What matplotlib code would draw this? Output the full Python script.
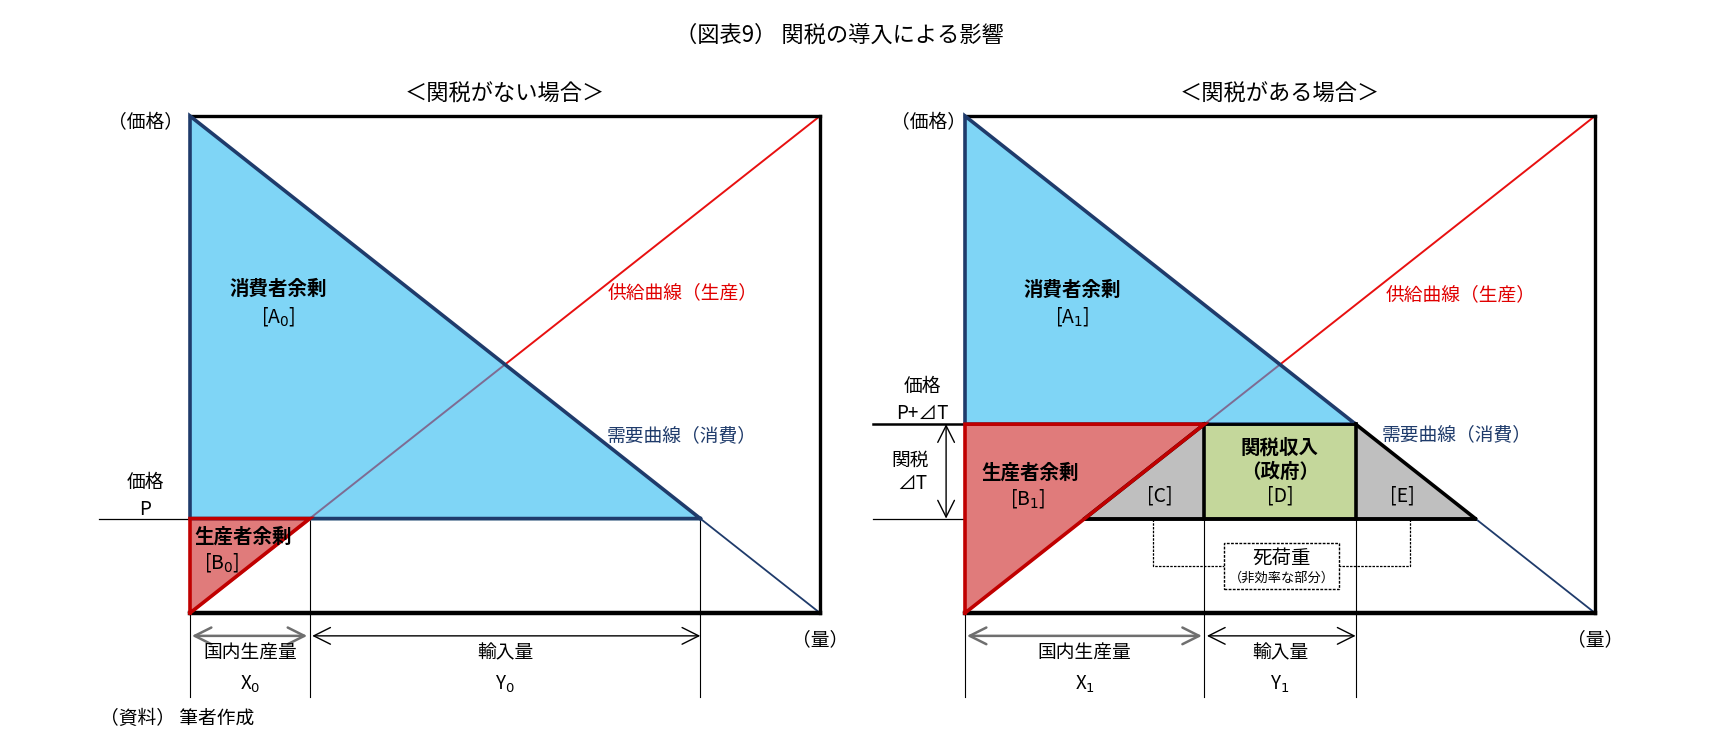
import matplotlib.pyplot as plt
import numpy as np
from matplotlib.patches import Rectangle

plt.rcParams['font.family'] = ['Noto Sans CJK JP', 'DejaVu Sans']

# model: quantity axis 0..1, supply and demand are straight lines
q_axis = [0.0, 1.0]
supply = [0.0, 1.0]     # price along q_axis
demand = [1.0, 0.0]     # price along q_axis
world_price = 0.19
tariff = 0.19

title = '（図表9） 関税の導入による影響'
panel_titles = ['＜関税がない場合＞', '＜関税がある場合＞']

BLUE = '#7FD5F6'
NAVY = '#1F3B6B'
RED_FILL = '#E07B7B'
RED_EDGE = '#C00000'
SUPPLY = '#E81010'
PURPLE = '#7E6C93'
GRAY = '#BFBFBF'
GREEN = '#C4D79B'
FS = 13.5


def q_supply(p):
    return np.interp(p, supply, q_axis)


def q_demand(p):
    return np.interp(p, demand[::-1], q_axis[::-1])


def setup(ax, sub):
    ax.set_xlim(0, 1)
    ax.set_ylim(0, 1)
    ax.set_xticks([])
    ax.set_yticks([])
    ax.spines['left'].set_visible(False)
    for s in ['top', 'right']:
        ax.spines[s].set_linewidth(2.4)
    ax.spines['bottom'].set_linewidth(3.2)
    ax.text(0.5, 1.044, sub, ha='center', va='center', fontsize=16)
    ax.text(1.0, -0.054, '（量）', ha='center', va='center', fontsize=FS)


def arrow(ax, x0, x1, y, color='black', lw=1.0):
    ax.annotate('', xy=(x1, y), xytext=(x0, y),
                arrowprops=dict(arrowstyle='<->,head_length=0.6,head_width=0.3',
                                color=color, lw=lw, shrinkA=0, shrinkB=0,
                                mutation_scale=20),
                annotation_clip=False)


def vguide(ax, x, top):
    ax.plot([x, x], [top, -0.169], color='black', lw=0.8, clip_on=False, zorder=1)


fig = plt.figure(figsize=(17.3, 7.52), dpi=100)
fig.text(0.4855, 0.9535, title, ha='center', va='center', fontsize=16)

ax1 = fig.add_axes([190 / 1730, 139 / 752, 630 / 1730, 497 / 752])
ax2 = fig.add_axes([965 / 1730, 139 / 752, 630 / 1730, 497 / 752])

# ---------------- without tariff ----------------
ax = ax1
setup(ax, panel_titles[0])
p = world_price
qs, qd = q_supply(p), q_demand(p)
eq = 0.5 * (q_supply(0.5) + q_demand(0.5))

ax.plot([-0.145, qd], [p, p], color='black', lw=0.9, clip_on=False, zorder=1)
ax.plot(q_axis, supply, color=SUPPLY, lw=1.4, zorder=1)
ax.plot([qd, 1], [p, 0], color=NAVY, lw=1.3, zorder=1)
ax.fill([0, 0, qd], [demand[0], p, p], color=BLUE, zorder=2, clip_on=False)
ax.fill([0, 0, qs], [0, p, p], color=RED_FILL, zorder=2, clip_on=False)
ax.plot([qs, eq], [p, eq], color=PURPLE, lw=1.4, zorder=3)
ax.plot([qd, 0, 0, qd], [p, p, demand[0], p], color=NAVY, lw=2.6, zorder=4,
        clip_on=False, solid_joinstyle='miter')
ax.plot([0, 0, qs, 0], [0, p, p, 0], color=RED_EDGE, lw=2.6, zorder=4,
        clip_on=False, solid_joinstyle='miter')

ax.text(0.140, 0.652, '消費者余剰', ha='center', va='center', fontsize=14, fontweight='bold')
ax.text(0.140, 0.596, '[A$_0$]', ha='center', va='center', fontsize=14)
ax.text(0.782, 0.644, '供給曲線（生産）', ha='center', va='center', fontsize=FS, color='#E00000')
ax.text(0.780, 0.356, '需要曲線（消費）', ha='center', va='center', fontsize=FS, color=NAVY)
ax.text(-0.071, 0.986, '（価格）', ha='center', va='center', fontsize=FS)
ax.text(-0.071, 0.262, '価格', ha='center', va='center', fontsize=FS)
ax.text(-0.071, 0.209, 'P', ha='center', va='center', fontsize=FS)
ax.text(0.084, 0.153, '生産者余剰', ha='center', va='center', fontsize=14, fontweight='bold', zorder=5)
ax.text(0.051, 0.101, '[B$_0$]', ha='center', va='center', fontsize=14, zorder=5)

vguide(ax, 0, 0)
vguide(ax, qs, p)
vguide(ax, qd, p)
arrow(ax, 0.003, qs - 0.004, -0.046, color='#6F6F6F', lw=1.8)
arrow(ax, qs + 0.004, qd, -0.046)
ax.text(qs / 2, -0.080, '国内生産量', ha='center', va='center', fontsize=FS)
ax.text((qs + qd) / 2, -0.080, '輸入量', ha='center', va='center', fontsize=FS)
ax.text(qs / 2, -0.143, 'X$_0$', ha='center', va='center', fontsize=FS)
ax.text((qs + qd) / 2, -0.143, 'Y$_0$', ha='center', va='center', fontsize=FS)
ax.text(-0.143, -0.213, '（資料） 筆者作成', ha='left', va='center', fontsize=FS)

# ---------------- with tariff ----------------
ax = ax2
setup(ax, panel_titles[1])
pt = world_price + tariff
qs0, qd0 = q_supply(p), q_demand(p)
qs1, qd1 = q_supply(pt), q_demand(pt)

ax.plot([-0.146, qs0], [p, p], color='black', lw=0.9, clip_on=False, zorder=1)
ax.plot([-0.146, 0], [pt, pt], color='black', lw=1.8, clip_on=False, zorder=1)
ax.plot(q_axis, supply, color=SUPPLY, lw=1.4, zorder=1)
ax.plot([qd0, 1], [p, 0], color=NAVY, lw=1.3, zorder=1)
ax.fill([0, 0, qd1], [demand[0], pt, pt], color=BLUE, zorder=2, clip_on=False)
ax.fill([0, 0, qs1], [0, pt, pt], color=RED_FILL, zorder=2, clip_on=False)
ax.fill([qs0, qs1, qs1], [p, pt, p], color=GRAY, zorder=2)
ax.fill([qs1, qs1, qd1, qd1], [p, pt, pt, p], color=GREEN, zorder=2)
ax.fill([qd1, qd1, qd0], [pt, p, p], color=GRAY, zorder=2)
ax.plot([qs1, eq], [pt, eq], color=PURPLE, lw=1.4, zorder=3)
ax.plot([qd1, 0, 0, qd1], [pt, pt, demand[0], pt], color=NAVY, lw=2.6, zorder=4,
        clip_on=False, solid_joinstyle='miter')
# outlines of C, D, E
ax.plot([qs0, qd0], [p, p], color='black', lw=2.8, zorder=4)
ax.plot([qs1, qs1], [p, pt], color='black', lw=2.6, zorder=4)
ax.plot([qd1, qd1], [p, pt], color='black', lw=2.6, zorder=4)
ax.plot([qd1, qd0], [pt, p], color='black', lw=2.6, zorder=4)
ax.plot([qs0, qs1], [p, pt], color='black', lw=2.6, zorder=4)
ax.plot([qs1, qd1], [pt, pt], color='black', lw=2.0, zorder=4)
ax.plot([0, 0, qs1, 0], [0, pt, pt, 0], color=RED_EDGE, lw=2.6, zorder=5,
        clip_on=False, solid_joinstyle='miter')

ax.text(0.170, 0.650, '消費者余剰', ha='center', va='center', fontsize=14, fontweight='bold')
ax.text(0.170, 0.596, '[A$_1$]', ha='center', va='center', fontsize=14)
ax.text(0.786, 0.640, '供給曲線（生産）', ha='center', va='center', fontsize=FS, color='#E00000')
ax.text(0.781, 0.358, '需要曲線（消費）', ha='center', va='center', fontsize=FS, color=NAVY)
ax.text(-0.058, 0.986, '（価格）', ha='center', va='center', fontsize=FS)
ax.text(-0.068, 0.455, '価格', ha='center', va='center', fontsize=FS)
ax.text(-0.068, 0.402, 'P+⊿T', ha='center', va='center', fontsize=FS)
ax.text(-0.087, 0.308, '関税', ha='center', va='center', fontsize=FS)
ax.text(-0.084, 0.260, '⊿T', ha='center', va='center', fontsize=FS)
ax.annotate('', xy=(-0.030, pt), xytext=(-0.030, p),
            arrowprops=dict(arrowstyle='<->,head_length=0.6,head_width=0.3',
                            color='black', lw=1.0, shrinkA=0, shrinkB=0,
                            mutation_scale=20),
            annotation_clip=False)
ax.text(0.103, 0.282, '生産者余剰', ha='center', va='center', fontsize=14, fontweight='bold', zorder=6)
ax.text(0.100, 0.231, '[B$_1$]', ha='center', va='center', fontsize=14, zorder=6)
ax.text(0.310, 0.235, '[C]', ha='center', va='center', fontsize=14, zorder=6)
ax.text(0.500, 0.332, '関税収入', ha='center', va='center', fontsize=14, fontweight='bold', zorder=6)
ax.text(0.500, 0.284, '（政府）', ha='center', va='center', fontsize=14, fontweight='bold', zorder=6)
ax.text(0.500, 0.235, '[D]', ha='center', va='center', fontsize=14, zorder=6)
ax.text(0.695, 0.235, '[E]', ha='center', va='center', fontsize=14, zorder=6)

# dead-weight loss bracket
ax.plot([0.298, 0.298, 0.411], [p, 0.095, 0.095], color='black', lw=0.9,
        ls=(0, (2, 1)), zorder=3)
ax.plot([0.706, 0.706, 0.594], [p, 0.095, 0.095], color='black', lw=0.9,
        ls=(0, (2, 1)), zorder=3)
ax.add_patch(Rectangle((0.411, 0.048), 0.183, 0.093, facecolor='white',
                       edgecolor='black', lw=1.0, ls=(0, (2, 1)), zorder=4))
ax.text(0.5025, 0.111, '死荷重', ha='center', va='center', fontsize=14, zorder=5)
ax.text(0.5025, 0.070, '（非効率な部分）', ha='center', va='center', fontsize=9.5, zorder=5)

vguide(ax, 0, 0)
vguide(ax, qs1, p)
vguide(ax, qd1, p)
arrow(ax, 0.003, qs1 - 0.004, -0.046, color='#6F6F6F', lw=1.8)
arrow(ax, qs1 + 0.004, qd1, -0.046)
ax.text(qs1 / 2, -0.080, '国内生産量', ha='center', va='center', fontsize=FS)
ax.text((qs1 + qd1) / 2, -0.080, '輸入量', ha='center', va='center', fontsize=FS)
ax.text(qs1 / 2, -0.143, 'X$_1$', ha='center', va='center', fontsize=FS)
ax.text((qs1 + qd1) / 2, -0.143, 'Y$_1$', ha='center', va='center', fontsize=FS)

fig.savefig('out.png', dpi=100)
